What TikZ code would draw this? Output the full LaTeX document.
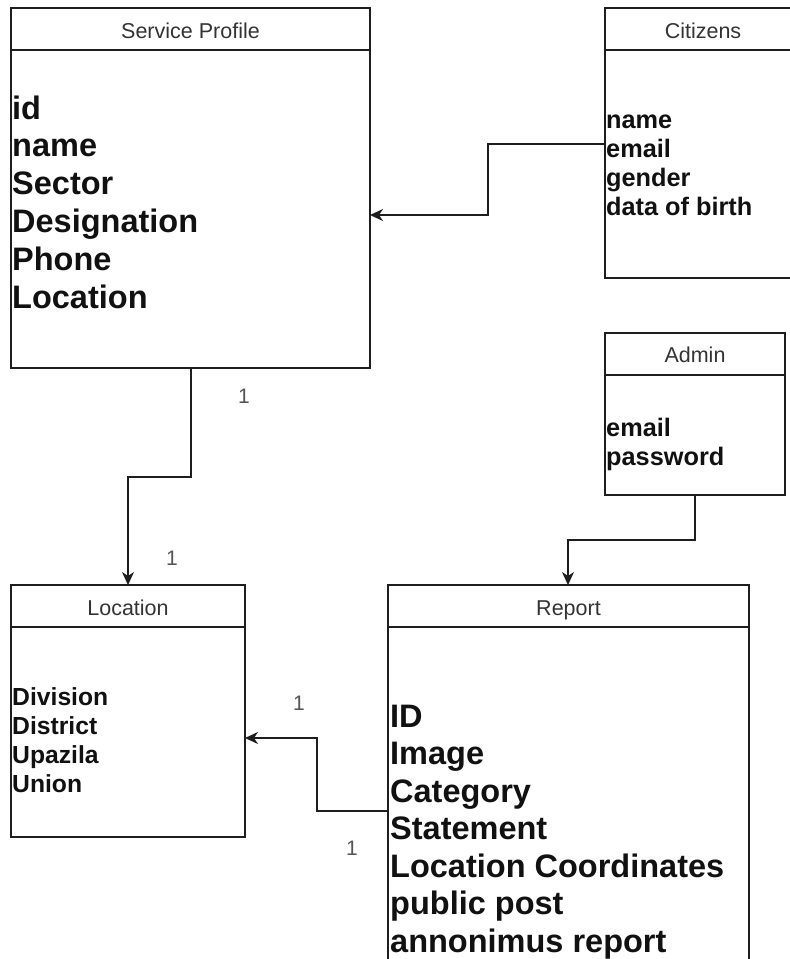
\documentclass[tikz,border=0pt]{standalone}
\usepackage{fontspec}
\setmainfont{Liberation Sans}
\usetikzlibrary{arrows.meta}
\definecolor{edge}{HTML}{1E1E1E}
\definecolor{titlegray}{HTML}{333333}
\definecolor{labelgray}{HTML}{555555}
\definecolor{attrtext}{HTML}{111111}

\begin{document}
\begin{tikzpicture}[x=1pt,y=-1pt,
  entity/.style={draw=edge, line width=1.6pt, rectangle, anchor=north west,
                 inner sep=0pt, outer sep=0pt},
  divider/.style={draw=edge, line width=1.6pt},
  title/.style={anchor=base, inner sep=0pt, text=titlegray,
                font=\fontsize{21.5}{26}\selectfont},
  attr/.style={anchor=base west, inner sep=0pt, text=attrtext,
               font=\bfseries\fontsize{#1}{#1}\selectfont},
  mult/.style={anchor=base, inner sep=0pt, text=labelgray,
               font=\fontsize{21}{21}\selectfont},
  conn/.style={draw=edge, line width=1.6pt, line join=miter,
               -{Stealth[length=13pt,width=12pt,inset=4pt]}}
]
\useasboundingbox (0,0) rectangle (790,959);

% ---------- entity boxes ----------
\node[entity, minimum width=359pt, minimum height=360pt] (sp)  at (11,8)   {};
\node[entity, minimum width=196pt, minimum height=270pt] (cit) at (605,8)  {};
\node[entity, minimum width=180pt, minimum height=162pt] (adm) at (605,333) {};
\node[entity, minimum width=234pt, minimum height=252pt] (loc) at (11,585) {};
\node[entity, minimum width=361pt, minimum height=400pt] (rep) at (388,585) {};

% header dividers
\foreach \b in {sp,cit,adm,loc,rep}
  \draw[divider] ([yshift=-42pt]\b.north west) -- ([yshift=-42pt]\b.north east);

% ---------- titles ----------
\node[title] (sp-t)  at (190.5,38)  {Service Profile};
\node[title] (cit-t) at (703,38)    {Citizens};
\node[title] (adm-t) at (695,362)   {Admin};
\node[title] (loc-t) at (128,615)   {Location};
\node[title] (rep-t) at (568.5,615) {Report};

% ---------- attributes ----------
\foreach \t [count=\i from 0] in {id,name,Sector,Designation,Phone,Location}
  \node[attr=32.5] (sp-a\i) at (12,119+37.8*\i) {\t};
\foreach \t [count=\i from 0] in {name,email,gender,data of birth}
  \node[attr=25.3] (cit-a\i) at (606,128+29.3*\i) {\t};
\foreach \t [count=\i from 0] in {email,password}
  \node[attr=25.3] (adm-a\i) at (606,436+29*\i) {\t};
\foreach \t [count=\i from 0] in {Division,District,Upazila,Union}
  \node[attr=24.7] (loc-a\i) at (12,705+29*\i) {\t};
\foreach \t [count=\i from 0] in {ID,Image,Category,Statement,Location Coordinates,public post,annonimus report}
  \node[attr=32.5] (rep-a\i) at (390,727+37.5*\i) {\t};

% ---------- connectors ----------
\coordinate (b1) at (488,144);
\coordinate (b2) at (488,215);
\draw[conn] (cit.west |- b1) -- (b1) -- (b2) -- (sp.east |- b2);

\coordinate (b3) at (191,477);
\coordinate (b4) at (128,477);
\draw[conn] (sp.south -| b3) -- (b3) -- (b4) -- (loc.north -| b4);

\coordinate (b5) at (695,540);
\coordinate (b6) at (568,540);
\draw[conn] (adm.south -| b5) -- (b5) -- (b6) -- (rep.north -| b6);

\coordinate (b7) at (317,811);
\coordinate (b8) at (317,738);
\draw[conn] (rep.west |- b7) -- (b7) -- (b8) -- (loc.east |- b8);

% ---------- multiplicities ----------
\node[mult] (m1) at (244,403) {1};
\node[mult] (m2) at (172,565) {1};
\node[mult] (m3) at (299,710) {1};
\node[mult] (m4) at (352,855) {1};
\end{tikzpicture}
\end{document}
